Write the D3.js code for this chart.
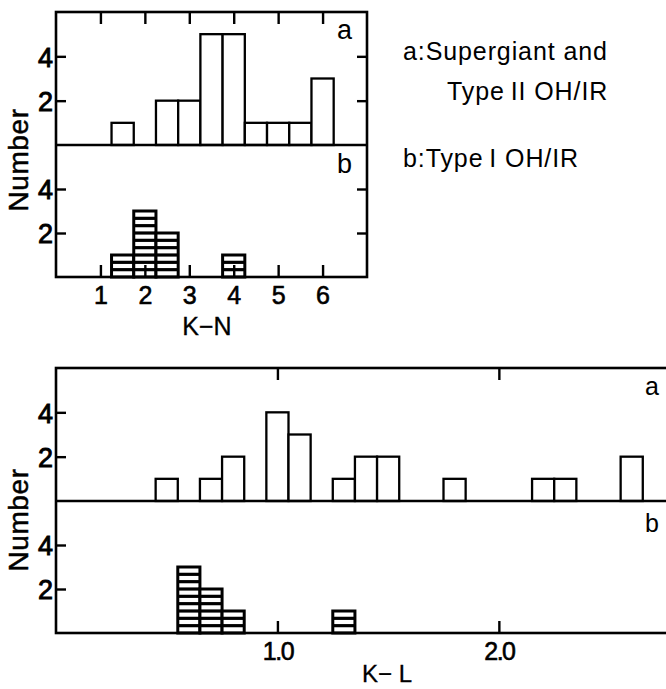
<!DOCTYPE html>
<html>
<head>
<meta charset="utf-8">
<script src="https://cdn.jsdelivr.net/npm/d3@7"></script>
<style>
  html, body { margin: 0; padding: 0; background: #fff; }
  svg { display: block; }
  text { font-family: "Liberation Sans", Arial, Helvetica, sans-serif; fill: #000; }
</style>
</head>
<body>
<svg id="chart" width="666" height="689"></svg>
<script>
// K-N histograms (bin width 0.5)
const knBinWidth = 0.5;
const knCentersA = [1.5, 2.5, 3.0, 3.5, 4.0, 4.5, 5.0, 5.5, 6.0];
const knCountsA  = [1, 2, 2, 5, 5, 1, 1, 1, 3];
const knCentersB = [1.5, 2.0, 2.5, 4.0];
const knCountsB  = [1, 3, 2, 1];
const knTicks = [1, 2, 3, 4, 5, 6];

// K-L histograms (bin width 0.1)
const klBinWidth = 0.1;
const klCentersA = [0.5, 0.7, 0.8, 1.0, 1.1, 1.3, 1.4, 1.5, 1.8, 2.2, 2.3, 2.6];
const klCountsA  = [1, 1, 2, 4, 3, 1, 2, 2, 1, 1, 1, 2];
const klCentersB = [0.6, 0.7, 0.8, 1.3];
const klCountsB  = [3, 2, 1, 1];
const klTicks = [1.0, 2.0];

const countTicks = [2, 4];
const legendLines = ["a:Supergiant and", "Type\u2009II OH/IR", "b:Type\u2009I OH/IR"];

const svg = d3.select("#chart");

function drawFigure(cfg) {
  const g = svg.append("g");
  const x = d3.scaleLinear().domain(cfg.xDomain).range([cfg.left, cfg.right]);
  const yA = d3.scaleLinear().domain([0, 6]).range([cfg.mid, cfg.top]);
  const yB = d3.scaleLinear().domain([0, 6]).range([cfg.bottom, cfg.mid]);

  // panels: a (open bars) and b (horizontally hatched bars)
  const panels = [
    { y: yA, centers: cfg.centersA, counts: cfg.countsA, hatched: false, tag: "a", tagY: cfg.tagYA },
    { y: yB, centers: cfg.centersB, counts: cfg.countsB, hatched: true,  tag: "b", tagY: cfg.tagYB }
  ];

  panels.forEach(p => {
    const bins = p.centers.map((c, i) => ({ c, n: p.counts[i] }));
    const bars = g.append("g");
    bars.selectAll("rect").data(bins).join("rect")
      .attr("x", d => x(d.c - cfg.bw / 2))
      .attr("width", d => x(d.c + cfg.bw / 2) - x(d.c - cfg.bw / 2))
      .attr("y", d => p.y(d.n))
      .attr("height", d => p.y(0) - p.y(d.n))
      .attr("fill", "#fff")
      .attr("stroke", "#000")
      .attr("stroke-width", p.hatched ? 3 : 2.3);

    if (p.hatched) {
      // horizontal hatching, three strokes per count
      const lines = [];
      bins.forEach(d => {
        for (let k = 1; k < d.n * 3; k++) lines.push({ c: d.c, v: k / 3 });
      });
      bars.selectAll("line").data(lines).join("line")
        .attr("x1", d => x(d.c - cfg.bw / 2))
        .attr("x2", d => x(d.c + cfg.bw / 2))
        .attr("y1", d => p.y(d.v))
        .attr("y2", d => p.y(d.v))
        .attr("stroke", "#000")
        .attr("stroke-width", 3.2);
    }

    // count ticks, inward on both sides
    const yl = g.append("g").attr("transform", `translate(${cfg.left},0)`)
      .call(d3.axisLeft(p.y).tickValues(countTicks).tickSize(-10).tickPadding(3).tickFormat(d3.format("d")));
    yl.select(".domain").remove();
    yl.selectAll("line").attr("stroke-width", 2.4);
    yl.selectAll("text").attr("font-size", 27).attr("dy", "0.36em").attr("font-family", null)
      .attr("stroke", "#000").attr("stroke-width", 0.9);

    const yr = g.append("g").attr("transform", `translate(${cfg.right},0)`)
      .call(d3.axisRight(p.y).tickValues(countTicks).tickSize(-10).tickFormat(""));
    yr.select(".domain").remove();
    yr.selectAll("line").attr("stroke-width", 2.4);

    g.append("text")
      .attr("x", cfg.tagX).attr("y", p.tagY)
      .attr("font-size", cfg.tagSize)
      .text(p.tag);
  });

  // x ticks, inward on top and bottom edges
  const xt = g.append("g").attr("transform", `translate(0,${cfg.top})`)
    .call(d3.axisTop(x).tickValues(cfg.ticks).tickSize(-12).tickFormat(""));
  xt.select(".domain").remove();
  xt.selectAll("line").attr("stroke-width", 2.4);

  const xb = g.append("g").attr("transform", `translate(0,${cfg.bottom})`)
    .call(d3.axisBottom(x).tickValues(cfg.ticks).tickSize(-12).tickPadding(9).tickFormat(cfg.fmt));
  xb.select(".domain").remove();
  xb.selectAll("line").attr("stroke-width", 2.4);
  xb.selectAll("text").attr("font-size", cfg.tickSize).attr("font-family", null)
    .attr("letter-spacing", cfg.tickSpacing)
    .attr("stroke", "#000").attr("stroke-width", 0.6);

  // frame and panel divider
  g.append("rect")
    .attr("x", cfg.left).attr("y", cfg.top)
    .attr("width", cfg.right - cfg.left).attr("height", cfg.bottom - cfg.top)
    .attr("fill", "none").attr("stroke", "#000").attr("stroke-width", 2.6);
  g.append("line")
    .attr("x1", cfg.left).attr("x2", cfg.right)
    .attr("y1", cfg.mid).attr("y2", cfg.mid)
    .attr("stroke", "#000").attr("stroke-width", 2.6);

  // axis titles
  g.append("text")
    .attr("transform", `translate(${cfg.yTitleX},${cfg.yTitleY}) rotate(-90)`)
    .attr("text-anchor", "middle")
    .attr("font-size", 28)
    .attr("letter-spacing", 0.6)
    .attr("stroke", "#000").attr("stroke-width", 0.5)
    .text("Number");
  g.append("text")
    .attr("x", cfg.xTitleX).attr("y", cfg.xTitleY)
    .attr("text-anchor", "middle")
    .attr("font-size", cfg.xTitleSize)
    .attr("stroke", "#000").attr("stroke-width", 0.3)
    .text(cfg.xTitle);
}

drawFigure({
  xDomain: [0, 7], left: 56, right: 367,
  top: 12, mid: 145, bottom: 277,
  bw: knBinWidth, ticks: knTicks, fmt: d3.format("d"),
  centersA: knCentersA, countsA: knCountsA,
  centersB: knCentersB, countsB: knCountsB,
  tagX: 337, tagYA: 39, tagYB: 173, tagSize: 27,
  tickSize: 25, tickSpacing: 0,
  yTitleX: 28, yTitleY: 160,
  xTitle: "K\u2212N", xTitleX: 207, xTitleY: 335, xTitleSize: 25
});

drawFigure({
  xDomain: [0, 2.8], left: 56, right: 676,
  top: 368, mid: 501, bottom: 633,
  bw: klBinWidth, ticks: klTicks, fmt: d3.format(".1f"),
  centersA: klCentersA, countsA: klCountsA,
  centersB: klCentersB, countsB: klCountsB,
  tagX: 645, tagYA: 395, tagYB: 532, tagSize: 25,
  tickSize: 25, tickSpacing: -1.5,
  yTitleX: 28, yTitleY: 520,
  xTitle: "K\u2212 L", xTitleX: 387, xTitleY: 682, xTitleSize: 24
});

// legend
const legend = svg.append("g").attr("font-size", 25).attr("letter-spacing", 0.9);
legend.append("text").attr("x", 403).attr("y", 60).text(legendLines[0]);
legend.append("text").attr("x", 447).attr("y", 100).text(legendLines[1]);
legend.append("text").attr("x", 403).attr("y", 167).text(legendLines[2]);
</script>
</body>
</html>
